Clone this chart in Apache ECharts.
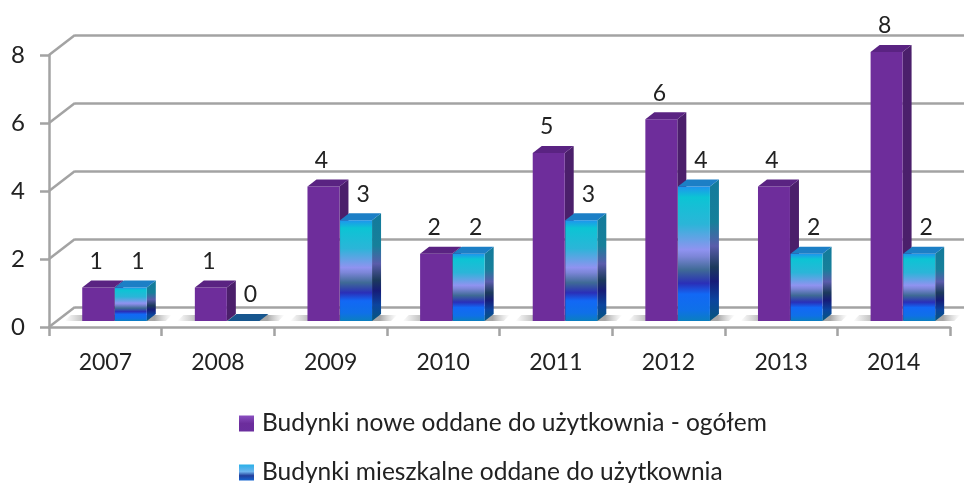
<!DOCTYPE html>
<html>
<head>
<meta charset="utf-8">
<script src="https://cdn.jsdelivr.net/npm/echarts@6/dist/echarts.min.js"></script>
<style>
  html, body { margin: 0; padding: 0; background: #fff; }
  #chart { width: 964px; height: 483px; filter: blur(0.6px); }
</style>
</head>
<body>
<div id="chart"></div>
<script>
const years = ['2007', '2008', '2009', '2010', '2011', '2012', '2013', '2014'];
const nameAll = 'Budynki nowe oddane do użytkownia - ogółem';
const nameHousing = 'Budynki mieszkalne oddane do użytkownia';
const allBuildings = [1, 1, 4, 2, 5, 6, 4, 8];
const housing = [1, 0, 3, 2, 3, 4, 2, 2];
const wallTicks = [0, 2, 4, 6, 8];

const LG = echarts.graphic.LinearGradient;
const font = 'Lato';
const textColor = '#222';
const lineColor = '#a3a3a3';

const blueFront = new LG(0, 0, 0, 1, [
    { offset: 0, color: '#1f93ee' },
    { offset: 0.08, color: '#0cc4d4' },
    { offset: 0.28, color: '#2bb5d8' },
    { offset: 0.47, color: '#8f93f0' },
    { offset: 0.52, color: '#7c86d8' },
    { offset: 0.62, color: '#3f6a96' },
    { offset: 0.72, color: '#2a2fb8' },
    { offset: 0.8, color: '#1268f5' },
    { offset: 0.92, color: '#0f70e8' },
    { offset: 1, color: '#0a7fc0' }
]);
const blueSide = new LG(0, 0, 0, 1, [
    { offset: 0, color: '#137a9c' },
    { offset: 0.3, color: '#16809a' },
    { offset: 0.47, color: '#5a5cab' },
    { offset: 0.62, color: '#1c3a5c' },
    { offset: 0.72, color: '#161c78' },
    { offset: 0.85, color: '#0b449e' },
    { offset: 1, color: '#05577e' }
]);
const blueLegend = new LG(0, 0, 0, 1, [
    { offset: 0, color: '#28b0e8' },
    { offset: 0.45, color: '#6fb4ee' },
    { offset: 0.7, color: '#223f9c' },
    { offset: 1, color: '#1464d0' }
]);
const purpleLegend = new LG(0, 0, 0, 1, [
    { offset: 0, color: '#8a4fc0' },
    { offset: 0.5, color: '#6c2d9c' },
    { offset: 1, color: '#6a2e9e' }
]);

// one 3d column: front face, side face, top face, value label
function column(slot, front, side, top, flatTop, labelShift) {
    return function (params, api) {
        const band = api.size([1, 0])[0];
        const w = band * 0.284;
        const depth = 9;
        const rise = 7;
        const base = api.coord([api.value(0), 0]);
        const tip = api.coord([api.value(0), api.value(1)]);
        const x0 = base[0] + slot * (w + 0.6);
        const x1 = x0 + w;
        const y0 = tip[1];
        const y1 = base[1];
        const isFlat = y1 - y0 < 1;
        const children = [];
        if (!isFlat) {
            children.push({
                type: 'polygon',
                shape: { points: [[x1, y0], [x1 + depth, y0 - rise], [x1 + depth, y1 - rise], [x1, y1]] },
                style: { fill: side }
            });
            children.push({
                type: 'rect',
                shape: { x: x0, y: y0, width: w, height: y1 - y0 },
                style: { fill: front }
            });
        }
        children.push({
            type: 'polygon',
            shape: { points: [[x0, y0], [x0 + depth, y0 - rise], [x1 + depth, y0 - rise], [x1, y0]] },
            style: { fill: isFlat ? flatTop : top }
        });
        children.push({
            type: 'text',
            style: {
                text: String(api.value(1)),
                x: (x0 + x1) / 2 + labelShift,
                y: y0 - 26,
                align: 'center',
                verticalAlign: 'middle',
                font: '23px ' + font,
                fill: textColor
            }
        });
        return { type: 'group', children: children };
    };
}

// diagonal wall edges joining the front axis to the back wall lines
function wallEdge(params, api) {
    const front = api.coord(['2007', api.value(0)]);
    const x = params.coordSys.x;
    return {
        type: 'line',
        shape: { x1: x, y1: front[1], x2: x + 26, y2: front[1] - 20 },
        style: { stroke: lineColor, lineWidth: 2.5 }
    };
}

// soft floor shadow around each column pair
function floorShadow(params, api) {
    const c = api.coord([api.value(0), 0]);
    return {
        type: 'polygon',
        shape: { points: [[c[0] - 50, c[1]], [c[0] - 44, c[1] - 6], [c[0] + 57, c[1] - 6], [c[0] + 51, c[1]]] },
        style: {
            fill: new LG(0, 0, 1, 0, [
                { offset: 0, color: 'rgba(150,150,150,0)' },
                { offset: 0.17, color: 'rgba(150,150,150,0.6)' },
                { offset: 0.84, color: 'rgba(120,120,120,0.65)' },
                { offset: 1, color: 'rgba(170,170,170,0)' }
            ])
        }
    };
}

const chart = echarts.init(document.getElementById('chart'), null, { renderer: 'canvas' });

chart.setOption({
    animation: false,
    backgroundColor: '#fff',
    textStyle: { fontFamily: font },
    legend: {
        orient: 'vertical',
        left: 239,
        top: 411,
        height: 100,
        padding: 0,
        itemWidth: 15,
        itemHeight: 16,
        itemGap: 24,
        icon: 'rect',
        data: [nameAll, nameHousing],
        textStyle: { fontFamily: font, fontSize: 24.5, color: textColor, padding: [0, 0, 4, 3] }
    },
    grid: [
        // front axes
        { left: 49, right: 14, top: 55, bottom: 156 },
        // back wall
        { left: 75, right: -12, top: 35, bottom: 176 },
        // columns sit between the two
        { left: 58.5, right: 4.5, top: 52, bottom: 162 }
    ],
    xAxis: [
        {
            gridIndex: 0,
            type: 'category',
            data: years,
            boundaryGap: true,
            axisLine: { lineStyle: { color: lineColor, width: 2.5 } },
            axisTick: { show: true, length: 9, alignWithLabel: false, lineStyle: { color: lineColor, width: 2.5 } },
            axisLabel: { fontFamily: font, fontSize: 23, color: textColor, margin: 24 }
        },
        { gridIndex: 1, type: 'category', data: years, show: false },
        { gridIndex: 2, type: 'category', data: years, show: false }
    ],
    yAxis: [
        {
            gridIndex: 0,
            type: 'value',
            min: 0,
            max: 8,
            interval: 2,
            splitLine: { show: false },
            axisLine: { show: true, lineStyle: { color: lineColor, width: 2.5 } },
            axisTick: { show: true, length: 9, lineStyle: { color: lineColor, width: 2.5 } },
            axisLabel: { fontFamily: font, fontSize: 24, color: textColor, margin: 24 }
        },
        {
            gridIndex: 1,
            type: 'value',
            min: 0,
            max: 8,
            interval: 2,
            axisLine: { show: false },
            axisTick: { show: false },
            axisLabel: { show: false },
            splitLine: { show: true, lineStyle: { color: lineColor, width: 2.5 } }
        },
        { gridIndex: 2, type: 'value', min: 0, max: 8, show: false, splitLine: { show: false } }
    ],
    series: [
        {
            name: 'wall',
            type: 'custom',
            xAxisIndex: 0,
            yAxisIndex: 0,
            clip: false,
            silent: true,
            renderItem: wallEdge,
            data: wallTicks.map(function (t) { return [t]; }),
            encode: { y: 0 }
        },
        {
            name: 'floor',
            type: 'custom',
            xAxisIndex: 2,
            yAxisIndex: 2,
            clip: false,
            silent: true,
            renderItem: floorShadow,
            data: years.map(function (y) { return [y, 0]; })
        },
        {
            name: nameAll,
            type: 'custom',
            xAxisIndex: 2,
            yAxisIndex: 2,
            clip: false,
            z: 3,
            itemStyle: { color: purpleLegend },
            renderItem: column(-1, '#6e2d9b', '#4b1f6b', '#5a2382', '#5a2382', -2),
            data: years.map(function (y, i) { return [y, allBuildings[i]]; })
        },
        {
            name: nameHousing,
            type: 'custom',
            xAxisIndex: 2,
            yAxisIndex: 2,
            clip: false,
            z: 4,
            itemStyle: { color: blueLegend },
            renderItem: column(0, blueFront, blueSide, '#1c7fc6', '#17568e', 7),
            data: years.map(function (y, i) { return [y, housing[i]]; })
        }
    ]
});
</script>
</body>
</html>
